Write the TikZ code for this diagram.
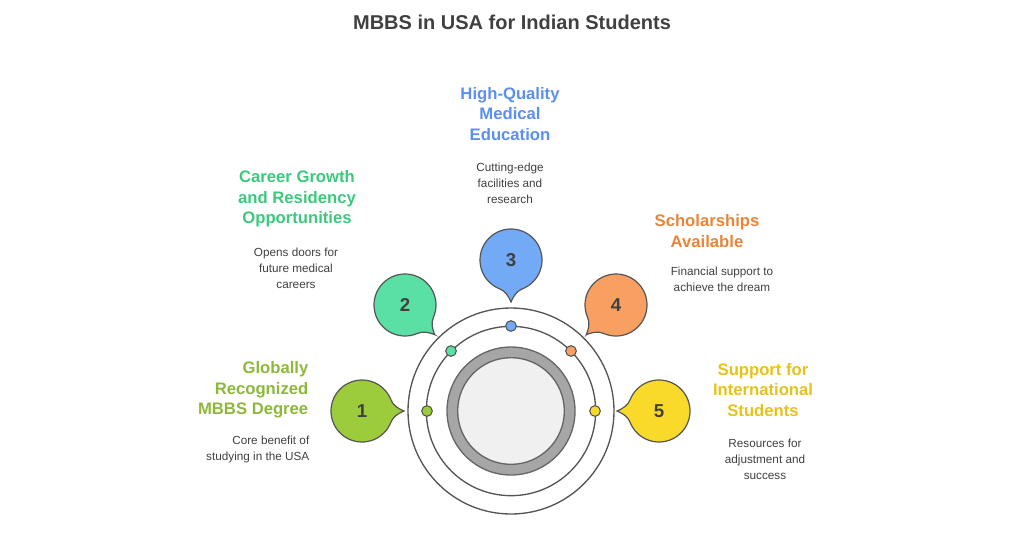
\documentclass[tikz,border=0pt]{standalone}
\usepackage{fontspec}
\setmainfont{Liberation Sans}
\usetikzlibrary{calc}
\definecolor{cA}{HTML}{9CCB3C}\definecolor{tA}{HTML}{8DB83A}
\definecolor{cB}{HTML}{5ADFA4}\definecolor{tB}{HTML}{3CC97E}
\definecolor{cC}{HTML}{72AAF6}\definecolor{tC}{HTML}{5B8FF0}
\definecolor{cD}{HTML}{F7A062}\definecolor{tD}{HTML}{E8853A}
\definecolor{cE}{HTML}{F9D92A}\definecolor{tE}{HTML}{E6C21A}
\definecolor{ring}{HTML}{555555}
\begin{document}
\begin{tikzpicture}[x=0.75pt,y=-0.75pt,
  head/.style={font=\bfseries\fontsize{12.5}{15.5}\selectfont,align=center},
  desc/.style={font=\fontsize{8.8}{12}\selectfont,text=black!75,align=center},
  num/.style={font=\bfseries\fontsize{14}{16}\selectfont,text=black!75},
  dot/.style={circle,draw=ring,line width=0.8pt,inner sep=0pt,minimum size=8pt}]
\useasboundingbox (0,0) rectangle (1024,536);
\node[font=\bfseries\fontsize{15}{18}\selectfont,text=black!75] (title) at (512,22) {MBBS in USA for Indian Students};
\coordinate (c) at (511,411);
\draw[ring,line width=1pt] (c) circle[radius=77.25pt];
\draw[ring,line width=1pt] (c) circle[radius=63.5pt];
\draw[black!60,line width=1pt,fill=black!35] (c) circle[radius=48pt];
\draw[black!60,line width=1pt,fill=black!6] (c) circle[radius=40pt];
% bubbles
\foreach \n/\px/\py/\ang/\col in {1/362/411/0/cA,2/405/305/-45/cB,3/511/260/-90/cC,4/616/305/-135/cD,5/659/411/180/cE}{
  \begin{scope}[shift={(\px,\py)},rotate=\ang,x=0.75pt,y=0.75pt]
    \filldraw[fill=\col,draw=ring,line width=0.9pt] (42,0) .. controls (35,3) and (31,6) .. (22:31) arc[start angle=22,end angle=338,radius=31] .. controls (31,-6) and (35,-3) .. cycle;
  \end{scope}
  \node[num] (n\n) at (\px,\py) {\n};
}
\node[dot,fill=cA] (d1) at (427,411) {};
\node[dot,fill=cB] (d2) at (451,351) {};
\node[dot,fill=cC] (d3) at (511,326) {};
\node[dot,fill=cD] (d4) at (571,351) {};
\node[dot,fill=cE] (d5) at (595,411) {};
% texts
\node[head,text=tA,align=right,anchor=east] (h1) at (313,390) {Globally\\Recognized\\MBBS Degree};
\node[desc,align=right,anchor=east] (e1) at (314,449) {Core benefit of\\studying in the USA};
\node[head,text=tB] (h2) at (297,199) {Career Growth\\and Residency\\Opportunities};
\node[desc] (e2) at (296,268) {Opens doors for\\future medical\\careers};
\node[head,text=tC] (h3) at (510,114) {High-Quality\\Medical\\Education};
\node[desc] (e3) at (510,183) {Cutting-edge\\facilities and\\research};
\node[head,text=tD] (h4) at (707,231) {Scholarships\\Available};
\node[desc] (e4) at (722,279) {Financial support to\\achieve the dream};
\node[head,text=tE] (h5) at (763,390) {Support for\\International\\Students};
\node[desc] (e5) at (765,459) {Resources for\\adjustment and\\success};
\end{tikzpicture}
\end{document}
